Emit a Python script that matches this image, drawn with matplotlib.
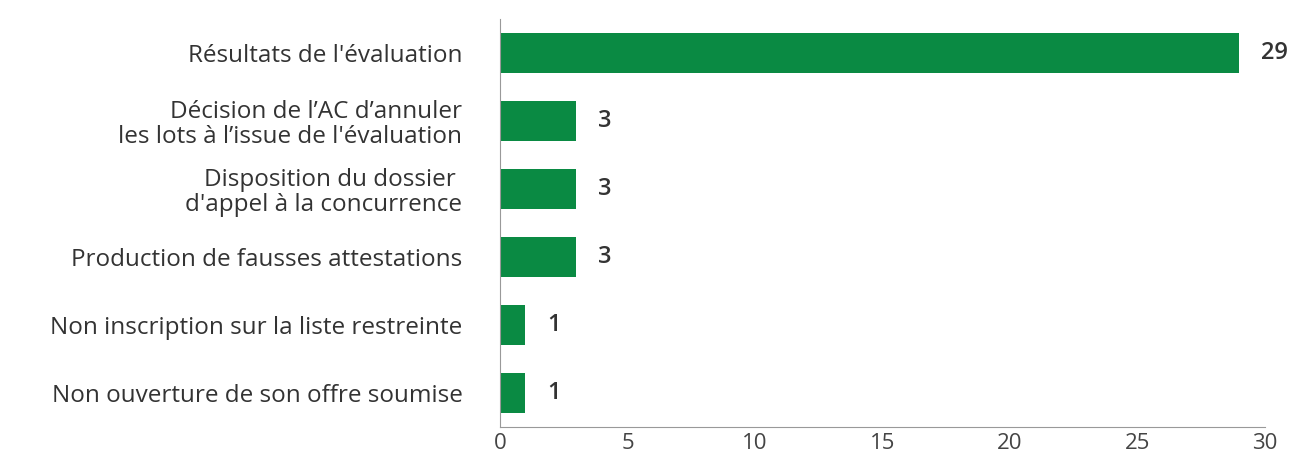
import matplotlib.pyplot as plt

# data
categories = [
    "Résultats de l'évaluation",
    "Décision de l’AC d’annuler\nles lots à l’issue de l'évaluation",
    "Disposition du dossier \nd'appel à la concurrence",
    "Production de fausses attestations",
    "Non inscription sur la liste restreinte",
    "Non ouverture de son offre soumise",
]
values = [29, 3, 3, 3, 1, 1]
xticks = [0, 5, 10, 15, 20, 25, 30]

GREEN = "#0a8a43"
plt.rcParams['font.family'] = ['Open Sans', 'DejaVu Sans']

fig = plt.figure(figsize=(13.14, 4.59), dpi=100)
ax = fig.add_axes([0.3805, 0.0697, 0.9627 - 0.3805, 0.9586 - 0.0697])

ypos = list(range(len(categories)))
ax.barh(ypos, values, height=0.6, color=GREEN)
ax.set_ylim(len(categories) - 0.5, -0.5)
ax.set_xlim(0, 30)
ax.set_yticks(ypos)
ax.set_yticklabels(categories, fontsize=17.5, color="#333333", linespacing=1.05)
ax.set_xticks(xticks)
ax.set_xticklabels([str(t) for t in xticks], fontsize=16, color="#444444")

for y, v in zip(ypos, values):
    ax.text(v + 0.85, y, str(v), va="center", ha="left", fontsize=17,
            color="#333333", fontweight="semibold")

ax.tick_params(axis="y", length=0, pad=27)
ax.tick_params(axis="x", length=0, pad=4)
for s in ["top", "right"]:
    ax.spines[s].set_visible(False)
ax.spines["left"].set_color("#999999")
ax.spines["bottom"].set_color("#999999")

fig.savefig("out.png", dpi=100)
